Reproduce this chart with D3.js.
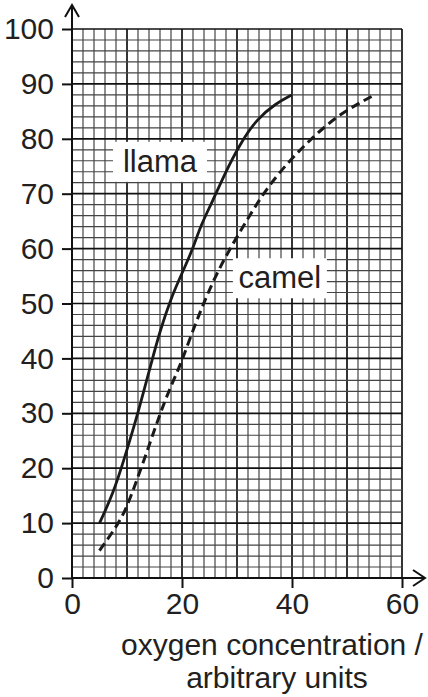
<!DOCTYPE html>
<meta charset="utf-8">
<script src="https://cdn.jsdelivr.net/npm/d3@7"></script>
<style>
  body { margin: 0; background: #fff; }
  text { font-family: "Liberation Sans", Arial, sans-serif; fill: #231f20; }
</style>
<body></body>
<script>

    // oxygen concentration vs % saturation
    var llamaX = [5, 7.5, 9.6, 12, 14.5, 16, 18, 20, 22, 23.3, 25.5, 27.8, 30.5, 33.6, 37, 40];
    var llamaY = [10, 15.4, 22, 30, 39.5, 45, 51, 55.5, 60, 64, 68.5, 73.7, 79, 83.6, 86.4, 88];
    var camelX = [5, 7.2, 9.6, 11.8, 14, 16, 18.4, 19.6, 21.8, 23.9, 26.3, 29.3, 32.4, 35.4, 39.6, 43.9, 48.7, 55];
    var camelY = [5, 8.1, 11.8, 17.9, 24, 30, 36, 38.5, 44.6, 50, 55.5, 61, 66.2, 71, 76.1, 80.4, 84.6, 88];
    var xTicks = [0, 20, 40, 60];
    var yTicks = [0, 10, 20, 30, 40, 50, 60, 70, 80, 90, 100];
    var labels = [
      {name: "llama", x: 16, y: 75.8},
      {name: "camel", x: 37.8, y: 54.6}
    ];

    var width = 428,
        height = 697;

    var x = d3.scaleLinear()
        .domain([0, 60])
        .range([72, 402]);

    var y = d3.scaleLinear()
        .domain([0, 100])
        .range([578, 29]);

    var svg = d3.select("body").append("svg")
        .attr("width", width)
        .attr("height", height);

    // graph paper: every 2 units, darker every 10
    var grid = svg.append("g");
    var gx = d3.range(0, 61, 2),
        gy = d3.range(0, 101, 2);

    grid.selectAll("line.v")
        .data(gx)
      .enter().append("line")
        .attr("x1", d => x(d)).attr("x2", d => x(d))
        .attr("y1", y(0)).attr("y2", y(100))
        .attr("stroke", d => d % 10 == 0 ? "#111" : "#444")
        .attr("stroke-width", d => d % 10 == 0 ? 1.7 : 1.2);

    grid.selectAll("line.h")
        .data(gy)
      .enter().append("line")
        .attr("y1", d => y(d)).attr("y2", d => y(d))
        .attr("x1", x(0)).attr("x2", x(60))
        .attr("stroke", d => d % 10 == 0 ? "#111" : "#444")
        .attr("stroke-width", d => d % 10 == 0 ? 1.7 : 1.2);

    // axes
    svg.append("g")
        .attr("transform", "translate(0," + y(0) + ")")
        .call(d3.axisBottom(x).tickValues(xTicks).tickSize(10).tickPadding(5))
        .call(g => g.select(".domain").remove())
        .call(g => g.selectAll(".tick line").attr("stroke", "#111").attr("stroke-width", 2))
        .call(g => g.selectAll(".tick text").attr("font-size", 30).attr("fill", "#231f20")
            .attr("font-family", "Liberation Sans, Arial, sans-serif"));

    svg.append("g")
        .attr("transform", "translate(" + x(0) + ",0)")
        .call(d3.axisLeft(y).tickValues(yTicks).tickSize(10).tickPadding(8))
        .call(g => g.select(".domain").remove())
        .call(g => g.selectAll(".tick line").attr("stroke", "#111").attr("stroke-width", 2))
        .call(g => g.selectAll(".tick text").attr("font-size", 30).attr("fill", "#231f20")
            .attr("font-family", "Liberation Sans, Arial, sans-serif"));

    // axis lines with open arrow heads
    svg.append("path")
        .attr("d", "M" + x(0) + "," + y(0) + "V5M65,17L" + x(0) + ",5L79,17")
        .attr("fill", "none").attr("stroke", "#111").attr("stroke-width", 2);
    svg.append("path")
        .attr("d", "M" + x(0) + "," + y(0) + "H425M413,570L425," + y(0) + "L413,586")
        .attr("fill", "none").attr("stroke", "#111").attr("stroke-width", 2);

    // curves
    var line = d3.line()
        .x(d => x(d[0]))
        .y(d => y(d[1]))
        .curve(d3.curveBasis);

    svg.append("path")
        .datum(d3.zip(llamaX, llamaY))
        .attr("d", line)
        .attr("fill", "none").attr("stroke", "#1a1a1a").attr("stroke-width", 2.8);

    svg.append("path")
        .datum(d3.zip(camelX, camelY))
        .attr("d", line)
        .attr("fill", "none").attr("stroke", "#1a1a1a").attr("stroke-width", 3)
        .attr("stroke-dasharray", "9,5");

    // curve labels on white boxes
    var lab = svg.selectAll("g.lab")
        .data(labels)
      .enter().append("g")
        .attr("transform", d => "translate(" + x(d.x) + "," + y(d.y) + ")");

    lab.append("rect")
        .attr("x", -47).attr("y", -20)
        .attr("width", 94).attr("height", 40)
        .attr("fill", "#fff");

    lab.append("text")
        .attr("text-anchor", "middle")
        .attr("y", 10)
        .attr("font-size", 31)
        .text(d => d.name);

    // axis title
    var title = svg.append("text")
        .attr("text-anchor", "middle")
        .attr("font-size", 30);
    title.append("tspan").attr("x", 272).attr("y", 655).text("oxygen concentration /");
    title.append("tspan").attr("x", 277).attr("y", 688).text("arbitrary units");

</script>
